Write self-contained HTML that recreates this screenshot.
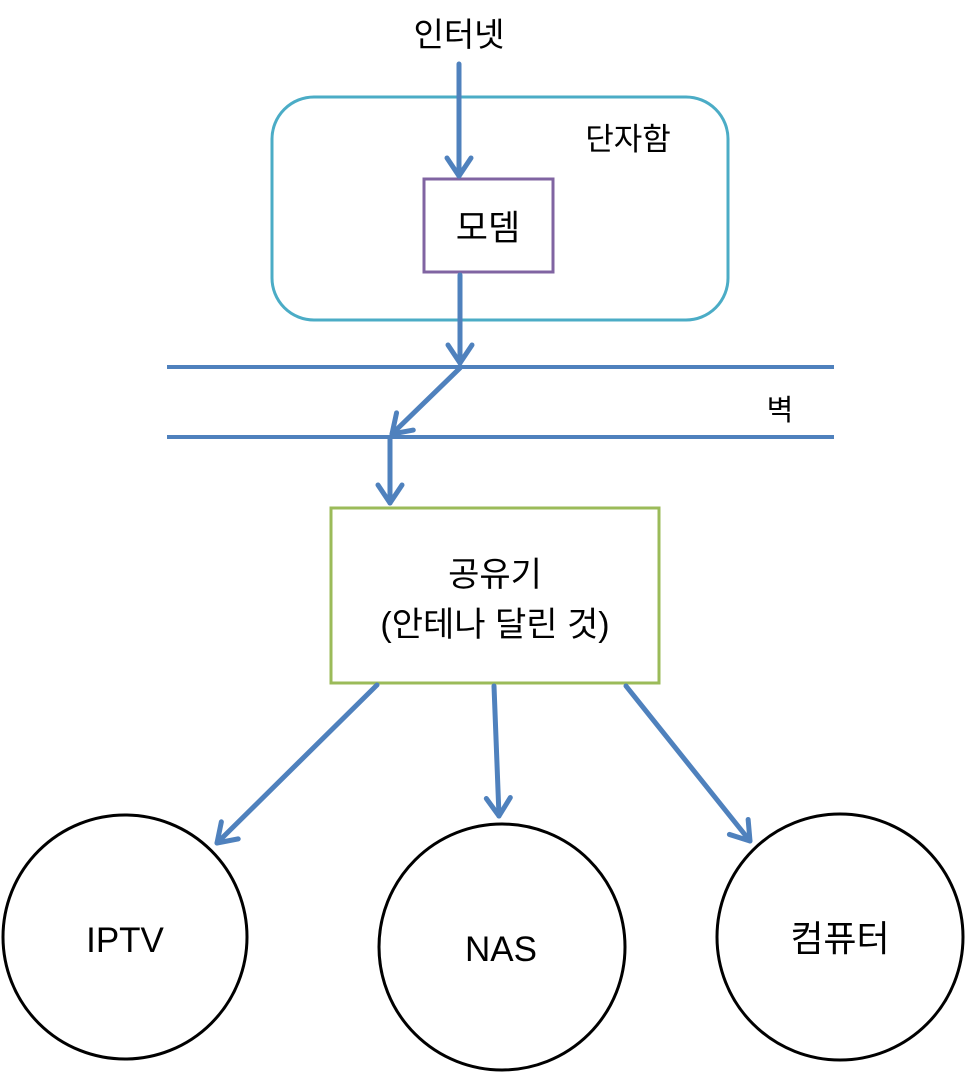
<!DOCTYPE html>
<html><head><meta charset="utf-8"><style>
html,body{margin:0;padding:0;background:#fff;}
svg{display:block;}
text{font-family:"Liberation Sans","Noto Sans CJK KR",sans-serif;fill:#000;}
</style></head><body>
<svg width="966" height="1073" viewBox="0 0 966 1073" xmlns="http://www.w3.org/2000/svg">
<defs>
<marker id="a" markerUnits="userSpaceOnUse" markerWidth="44" markerHeight="44" refX="22" refY="22" orient="auto">
<path d="M4,10 L22,22 L4,34" fill="none" stroke="#4F81BD" stroke-width="5" stroke-linecap="round" stroke-linejoin="round"/>
</marker>
</defs>
<rect x="272" y="97" width="456" height="223" rx="42" fill="none" stroke="#4BACC6" stroke-width="3"/>
<rect x="424" y="179" width="129" height="93" fill="none" stroke="#8064A2" stroke-width="3"/>
<rect x="331" y="508" width="328" height="175" fill="none" stroke="#9BBB59" stroke-width="3"/>
<line x1="167" y1="367" x2="834" y2="367" stroke="#4F81BD" stroke-width="4"/>
<line x1="167" y1="437" x2="834" y2="437" stroke="#4F81BD" stroke-width="4"/>
<g stroke="#4F81BD" stroke-width="5" fill="none" stroke-linecap="round" marker-end="url(#a)">
<line x1="459" y1="64" x2="459" y2="176"/>
<line x1="460" y1="275" x2="460" y2="363"/>
<line x1="460" y1="368" x2="392" y2="434"/>
<line x1="390" y1="438" x2="390" y2="503"/>
<line x1="377" y1="685" x2="217" y2="843"/>
<line x1="494" y1="686" x2="499" y2="816"/>
<line x1="626" y1="686" x2="750" y2="841"/>
</g>
<circle cx="125" cy="937" r="122" fill="none" stroke="#000" stroke-width="3"/>
<circle cx="502" cy="947" r="123" fill="none" stroke="#000" stroke-width="3"/>
<circle cx="840" cy="937" r="123" fill="none" stroke="#000" stroke-width="3"/>
<text x="459" y="46" font-size="33" text-anchor="middle">인터넷</text>
<text x="628" y="150" font-size="31" text-anchor="middle">단자함</text>
<text x="780" y="420" font-size="29" text-anchor="middle">벽</text>
<text x="488" y="240" font-size="35" text-anchor="middle">모뎀</text>
<text x="495" y="586" font-size="34" text-anchor="middle">공유기</text>
<text x="495" y="636" font-size="34" text-anchor="middle">(안테나 달린 것)</text>
<text x="125" y="952" font-size="35" text-anchor="middle">IPTV</text>
<text x="501" y="961" font-size="35" text-anchor="middle">NAS</text>
<text x="840" y="951" font-size="36" text-anchor="middle">컴퓨터</text>
</svg>
</body></html>
